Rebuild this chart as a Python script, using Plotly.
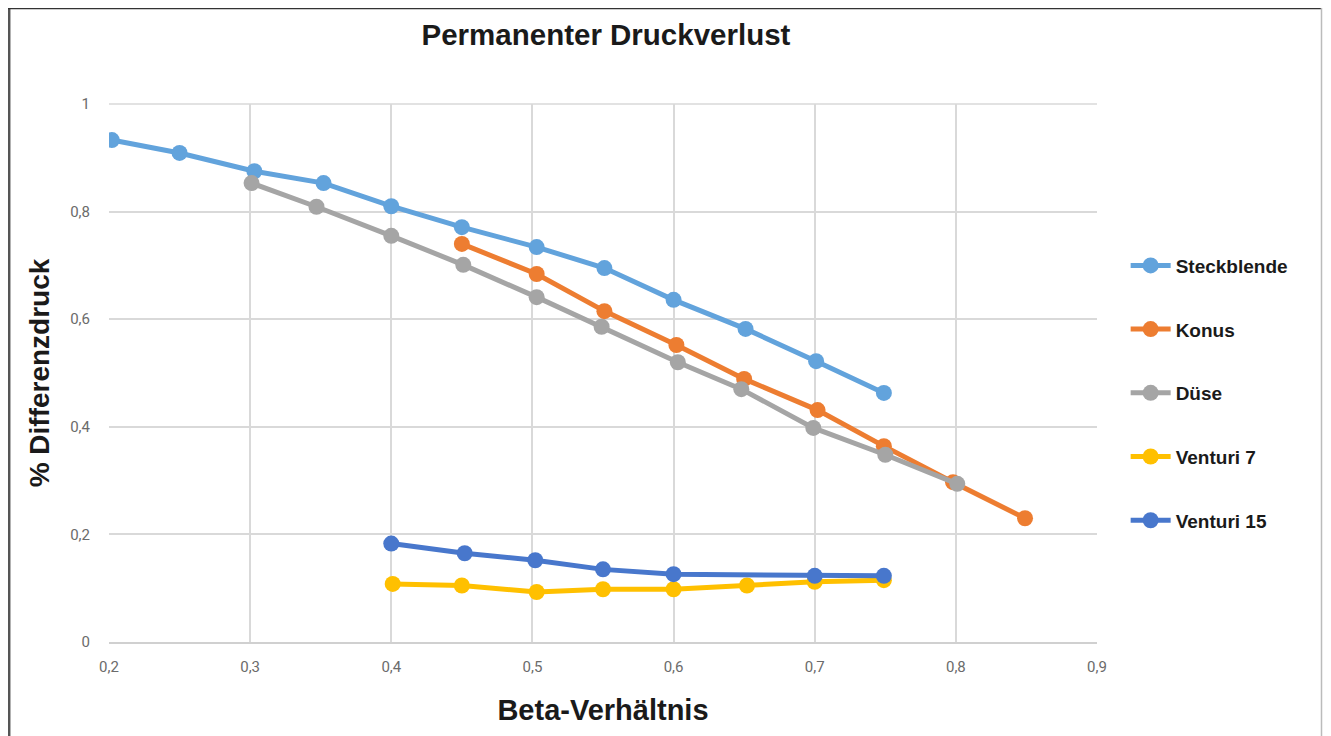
import plotly.graph_objects as go

# Data
steck_x = [0.202, 0.25, 0.303, 0.352, 0.40, 0.45, 0.503, 0.551, 0.60, 0.651, 0.701, 0.749]
steck_y = [0.933, 0.909, 0.875, 0.853, 0.810, 0.771, 0.734, 0.695, 0.636, 0.582, 0.522, 0.463]

konus_x = [0.45, 0.503, 0.551, 0.602, 0.65, 0.702, 0.749, 0.798, 0.849]
konus_y = [0.740, 0.684, 0.615, 0.552, 0.489, 0.431, 0.364, 0.297, 0.230]

duese_x = [0.301, 0.347, 0.40, 0.451, 0.503, 0.549, 0.603, 0.648, 0.699, 0.75, 0.801]
duese_y = [0.853, 0.809, 0.755, 0.701, 0.641, 0.586, 0.520, 0.470, 0.398, 0.348, 0.294]

v7_x = [0.401, 0.45, 0.503, 0.55, 0.60, 0.652, 0.70, 0.749]
v7_y = [0.108, 0.105, 0.093, 0.098, 0.098, 0.105, 0.112, 0.115]

v15_x = [0.40, 0.452, 0.502, 0.55, 0.60, 0.70, 0.749]
v15_y = [0.183, 0.165, 0.152, 0.135, 0.126, 0.123, 0.123]

names = ["Steckblende", "Konus", "Düse", "Venturi 7", "Venturi 15"]
colors = ["#62A3DC", "#ED7D31", "#A5A5A5", "#FFC000", "#4877CC"]
xs = [steck_x, konus_x, duese_x, v7_x, v15_x]
ys = [steck_y, konus_y, duese_y, v7_y, v15_y]

x_ticks = [0.2, 0.3, 0.4, 0.5, 0.6, 0.7, 0.8, 0.9]
x_ticklabels = ["0,2", "0,3", "0,4", "0,5", "0,6", "0,7", "0,8", "0,9"]
y_ticks = [0, 0.2, 0.4, 0.6, 0.8, 1]
y_ticklabels = ["0", "0,2", "0,4", "0,6", "0,8", "1"]

fig = go.Figure()
for i, (n, c, x, y) in enumerate(zip(names, colors, xs, ys)):
    fig.add_trace(go.Scatter(
        x=x, y=y, name=f"<b>{n}</b>", mode="lines+markers",
        line=dict(color=c, width=5),
        marker=dict(color=c, size=16),
        legendgroup=f"g{i}",
    ))

tick_font = dict(family="Roboto, Liberation Sans, Arial", size=15, color="#6b6b6b")

# the page draws the figure with an 8px body margin; compensate
OFF = 8
FW, FH = 1331, 736
L, R, T, B = 109 - OFF, FW - (1097 - OFF), 104 - OFF, FH - (642 - OFF)
PW, PH = FW - L - R, FH - T - B

fig.update_layout(
    width=FW, height=FH,
    margin=dict(l=L, r=R, t=T, b=B),
    paper_bgcolor="white", plot_bgcolor="white",
    separators=",.",
    title=dict(text="<b>Permanenter Druckverlust</b>", x=0.503, xref="paper",
               y=1 - (35 - OFF) / FH, yref="container", xanchor="center", yanchor="middle",
               font=dict(family="Liberation Sans, Arial", size=29.5, color="#1a1a1a")),
    xaxis=dict(range=[0.2, 0.9], tickvals=x_ticks, ticktext=x_ticklabels,
               showgrid=True, gridcolor="#d9d9d9", gridwidth=1.5,
               showline=True, linecolor="#d0d0d0", linewidth=2, mirror=False,
               zeroline=False, tickfont=tick_font, ticklabelstandoff=10,
               title=dict(text="<b>Beta-Verhältnis</b>", standoff=25,
                          font=dict(family="Liberation Sans, Arial", size=29, color="#1a1a1a"))),
    yaxis=dict(range=[0, 1], tickvals=y_ticks, ticktext=y_ticklabels,
               showgrid=True, gridcolor="#d9d9d9", gridwidth=1.5,
               zeroline=False, tickfont=tick_font, ticklabelstandoff=18,
               title=dict(text="<b>% Differenzdruck</b>", standoff=12,
                          font=dict(family="Liberation Sans, Arial", size=28, color="#1a1a1a"))),
    legend=dict(x=1.029, y=0.735, xanchor="left", yanchor="top",
                traceorder="grouped", tracegroupgap=36,
                font=dict(family="Liberation Sans, Arial", size=19, color="#1a1a1a"),
                itemwidth=40),
    showlegend=True,
)

# Outer frame (left, top, right) in screen pixels
px = lambda p: (p - OFF - L) / PW
py = lambda p: (FH - B - (p - OFF)) / PH
fig.add_shape(type="line", xref="paper", yref="paper", x0=px(9.2), x1=px(9.2), y0=py(8), y1=py(760),
              line=dict(color="#555555", width=2.5))
fig.add_shape(type="line", xref="paper", yref="paper", x0=px(8), x1=px(1322), y0=py(8.5), y1=py(8.5),
              line=dict(color="#333333", width=1.5))
fig.add_shape(type="line", xref="paper", yref="paper", x0=px(1321.5), x1=px(1321.5), y0=py(8), y1=py(760),
              line=dict(color="#bbbbbb", width=1.5))
# top gridline of plot box
fig.add_shape(type="line", xref="paper", yref="paper", x0=0, x1=1, y0=1, y1=1,
              line=dict(color="#d9d9d9", width=1.5), layer="below")

fig.write_html("out.html")
